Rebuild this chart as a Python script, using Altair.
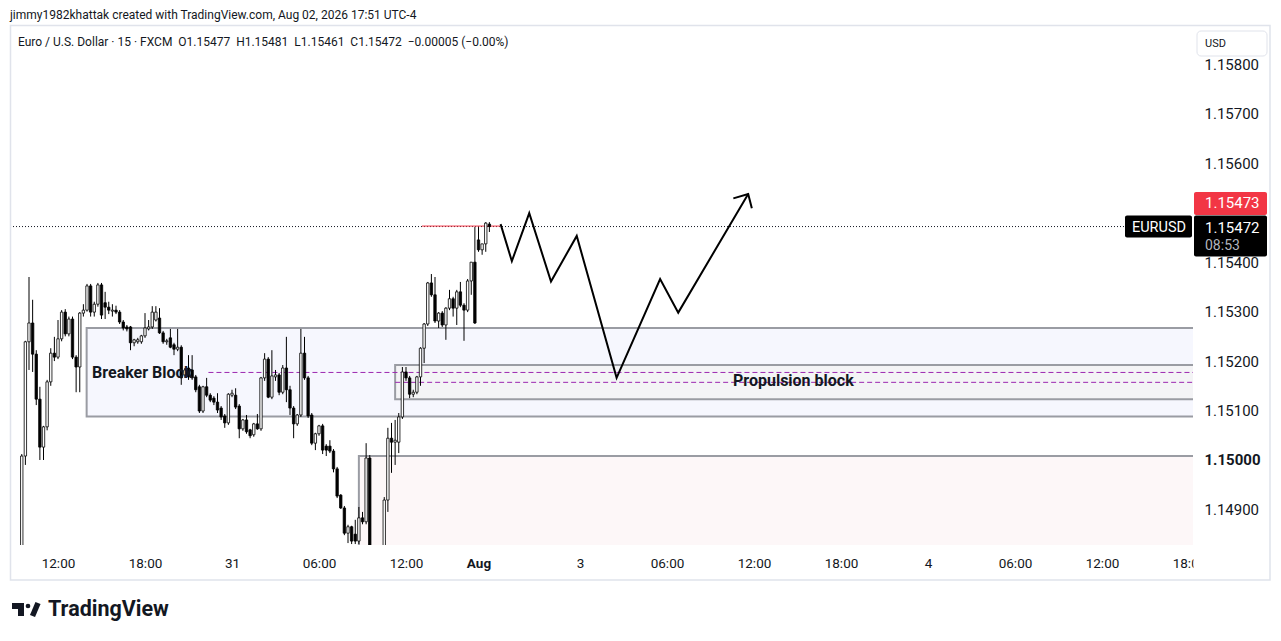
import altair as alt
import pandas as pd

# ---------------- data ----------------
FIRST_BAR = -10  # bar index of first candle (index 0 = Jul 30 12:00, 15-min bars)

opens = [1.14790, 1.15008, 1.15239, 1.15277, 1.15214, 1.15123, 1.15026, 1.15067, 1.15158, 1.15216,
         1.15208, 1.15245, 1.15299, 1.15255, 1.15285, 1.15208, 1.15188, 1.15297, 1.15303, 1.15352,
         1.15299, 1.15315, 1.15354, 1.15318, 1.15309, 1.15301, 1.15303, 1.15299, 1.15279, 1.15269,
         1.15269, 1.15237, 1.15239, 1.15239, 1.15251, 1.15265, 1.15269, 1.15283, 1.15287, 1.15257,
         1.15239, 1.15247, 1.15233, 1.15224, 1.15228, 1.15172, 1.15186, 1.15182, 1.15168, 1.15148,
         1.15099, 1.15148, 1.15131, 1.15125, 1.15117, 1.15105, 1.15089, 1.15075, 1.15131, 1.15131,
         1.15109, 1.15063, 1.15081, 1.15061, 1.15051, 1.15073, 1.15063, 1.15166, 1.15204, 1.15127,
         1.15168, 1.15172, 1.15137, 1.15186, 1.15142, 1.15105, 1.15073, 1.15091, 1.15216, 1.15166,
         1.15091, 1.15034, 1.15053, 1.15069, 1.15028, 1.15028, 1.15018, 1.14982, 1.14929, 1.14903,
         1.14852, 1.14865, 1.14850, 1.14836, 1.14883, 1.14875, 1.15004, 1.14800, 1.14770, 1.14790,
         1.14805, 1.14919, 1.15044, 1.15036, 1.15036, 1.15087, 1.15178, 1.15166, 1.15133, 1.15137,
         1.15168, 1.15226, 1.15275, 1.15358, 1.15334, 1.15281, 1.15297, 1.15273, 1.15307, 1.15326,
         1.15307, 1.15340, 1.15313, 1.15303, 1.15362, 1.15400, 1.15445, 1.15425, 1.15437, 1.15477]
highs = [1.15012, 1.15241, 1.15370, 1.15324, 1.15222, 1.15148, 1.15069, 1.15162, 1.15226, 1.15249,
         1.15283, 1.15303, 1.15305, 1.15290, 1.15290, 1.15212, 1.15299, 1.15315, 1.15356, 1.15356,
         1.15320, 1.15358, 1.15358, 1.15340, 1.15320, 1.15315, 1.15312, 1.15303, 1.15283, 1.15273,
         1.15271, 1.15245, 1.15247, 1.15253, 1.15297, 1.15283, 1.15311, 1.15311, 1.15307, 1.15261,
         1.15245, 1.15265, 1.15237, 1.15265, 1.15232, 1.15186, 1.15212, 1.15212, 1.15172, 1.15152,
         1.15150, 1.15166, 1.15135, 1.15129, 1.15135, 1.15109, 1.15093, 1.15135, 1.15142, 1.15145,
         1.15113, 1.15083, 1.15091, 1.15063, 1.15075, 1.15093, 1.15168, 1.15216, 1.15208, 1.15222,
         1.15182, 1.15176, 1.15192, 1.15249, 1.15150, 1.15109, 1.15093, 1.15265, 1.15249, 1.15170,
         1.15095, 1.15055, 1.15071, 1.15073, 1.15032, 1.15040, 1.15022, 1.14986, 1.14931, 1.14907,
         1.14869, 1.14867, 1.14879, 1.14905, 1.14895, 1.15034, 1.15010, 1.14815, 1.14800, 1.14815,
         1.14925, 1.15065, 1.15075, 1.15081, 1.15095, 1.15188, 1.15188, 1.15170, 1.15142, 1.15170,
         1.15228, 1.15277, 1.15360, 1.15376, 1.15370, 1.15299, 1.15301, 1.15309, 1.15344, 1.15330,
         1.15344, 1.15360, 1.15317, 1.15366, 1.15400, 1.15471, 1.15471, 1.15437, 1.15481, 1.15481]
lows = [1.14780, 1.14990, 1.15182, 1.15178, 1.15111, 1.15000, 1.15000, 1.15060, 1.15150, 1.15200,
        1.15204, 1.15240, 1.15250, 1.15250, 1.15204, 1.15137, 1.15137, 1.15290, 1.15300, 1.15290,
        1.15290, 1.15310, 1.15285, 1.15285, 1.15295, 1.15290, 1.15295, 1.15275, 1.15262, 1.15260,
        1.15222, 1.15230, 1.15235, 1.15235, 1.15247, 1.15262, 1.15265, 1.15280, 1.15255, 1.15235,
        1.15233, 1.15226, 1.15212, 1.15220, 1.15152, 1.15166, 1.15162, 1.15162, 1.15137, 1.15095,
        1.15095, 1.15127, 1.15117, 1.15111, 1.15095, 1.15081, 1.15065, 1.15071, 1.15127, 1.15103,
        1.15044, 1.15059, 1.15053, 1.15044, 1.15047, 1.15061, 1.15059, 1.15160, 1.15125, 1.15123,
        1.15160, 1.15131, 1.15133, 1.15117, 1.15091, 1.15044, 1.15069, 1.15087, 1.15162, 1.15085,
        1.15030, 1.15020, 1.15049, 1.15012, 1.15008, 1.15014, 1.14975, 1.14923, 1.14901, 1.14848,
        1.14832, 1.14830, 1.14830, 1.14830, 1.14870, 1.14870, 1.14760, 1.14750, 1.14740, 1.14770,
        1.14795, 1.14895, 1.14974, 1.14990, 1.15014, 1.15083, 1.15160, 1.15125, 1.15127, 1.15133,
        1.15150, 1.15196, 1.15271, 1.15330, 1.15277, 1.15267, 1.15269, 1.15243, 1.15303, 1.15290,
        1.15273, 1.15309, 1.15241, 1.15299, 1.15334, 1.15275, 1.15421, 1.15415, 1.15421, 1.15461]
closes = [1.15008, 1.15239, 1.15277, 1.15214, 1.15123, 1.15026, 1.15067, 1.15158, 1.15216, 1.15208,
          1.15245, 1.15299, 1.15255, 1.15285, 1.15208, 1.15188, 1.15297, 1.15303, 1.15352, 1.15299,
          1.15315, 1.15354, 1.15293, 1.15309, 1.15303, 1.15303, 1.15299, 1.15279, 1.15267, 1.15265,
          1.15237, 1.15243, 1.15243, 1.15251, 1.15267, 1.15269, 1.15299, 1.15299, 1.15257, 1.15239,
          1.15241, 1.15228, 1.15224, 1.15228, 1.15166, 1.15182, 1.15168, 1.15166, 1.15142, 1.15099,
          1.15148, 1.15131, 1.15121, 1.15117, 1.15101, 1.15087, 1.15075, 1.15133, 1.15135, 1.15107,
          1.15063, 1.15081, 1.15057, 1.15049, 1.15073, 1.15063, 1.15166, 1.15204, 1.15127, 1.15170,
          1.15172, 1.15137, 1.15186, 1.15142, 1.15105, 1.15073, 1.15091, 1.15216, 1.15166, 1.15089,
          1.15034, 1.15053, 1.15069, 1.15020, 1.15020, 1.15018, 1.14982, 1.14927, 1.14903, 1.14852,
          1.14865, 1.14836, 1.14836, 1.14883, 1.14875, 1.15004, 1.14800, 1.14770, 1.14790, 1.14805,
          1.14919, 1.15044, 1.15036, 1.15040, 1.15087, 1.15178, 1.15166, 1.15133, 1.15137, 1.15168,
          1.15226, 1.15275, 1.15358, 1.15334, 1.15281, 1.15297, 1.15273, 1.15307, 1.15326, 1.15307,
          1.15340, 1.15313, 1.15303, 1.15362, 1.15400, 1.15277, 1.15425, 1.15437, 1.15479, 1.15472]

# time axis ticks (bar index -> label)
time_ticks = [0, 24, 48, 72, 96, 116, 144, 168, 192, 216, 240, 264, 288, 312]
time_labels = ["12:00", "18:00", "31", "06:00", "12:00", "Aug", "3", "06:00", "12:00", "18:00",
               "4", "06:00", "12:00", "18:00"]
# 1.15500 is hidden behind the price tags in the reference, so it is not listed
price_ticks = [1.149, 1.150, 1.151, 1.152, 1.153, 1.154, 1.156, 1.157, 1.158]

# zones (bar index start, price bottom, price top)
zone_names = ["pink", "breaker", "propulsion"]
zone_start = [83.0, 7.9, 93.0]
zone_bottom = [1.14700, 1.15088, 1.15123]
zone_top = [1.15008, 1.15267, 1.15192]
zone_fill = ["#fdf7f8", "#f6f7fe", "#f4f4f6"]

# dashed magenta levels
dash_start = [41.5, 93.0]
dash_price = [1.15177, 1.15157]

# projected path (bar index, price)
path_bar = [122.1, 125.2, 130.0, 136.0, 143.1, 154.1, 166.1, 171.1, 190.4]
path_price = [1.15477, 1.15402, 1.15499, 1.15361, 1.15453, 1.15166, 1.15366, 1.15298, 1.15538]
head_bar = [186.3, 190.4, 191.4]
head_price = [1.15529, 1.15538, 1.15509]

last_price = 1.15472
ask_price = 1.15473

# ---------------- frame ----------------
X_MIN, X_MAX = -13.2414, 313.103
Y_MIN, Y_MAX = 1.148281, 1.158735
W, H = 1183, 517
FONT = "Roboto"
INK = "#131722"

xs = alt.Scale(domain=[X_MIN, X_MAX], nice=False, zero=False, padding=0)
ys = alt.Scale(domain=[Y_MIN, Y_MAX], nice=False, zero=False, padding=0)

candles = pd.DataFrame({
    "i": list(range(FIRST_BAR, FIRST_BAR + len(opens))),
    "o": opens, "h": highs, "l": lows, "c": closes,
})
candles["up"] = candles["c"] >= candles["o"]

label_expr = ("[" + ",".join("'%s'" % t for t in time_labels) + "][indexof(["
              + ",".join(str(v) for v in time_ticks) + "], datum.value)]")

x_axis = alt.Axis(orient="bottom", values=time_ticks, labelExpr=label_expr, title=None,
                  grid=False, domain=False, ticks=False, tickSize=0, labelPadding=11,
                  labelFont=FONT, labelFontSize=13.5, labelColor=INK, labelOverlap=False,
                  labelFlush=False, zindex=0,
                  labelFontWeight={"condition": {"test": "datum.value == 116", "value": "bold"},
                                   "value": "normal"})
y_axis = alt.Axis(orient="right", values=price_ticks, format=".5f", title=None, grid=False,
                  domain=False, ticks=False, tickSize=0, labelPadding=11, labelAlign="left",
                  labelBaseline="middle", labelFont=FONT, labelFontSize=15, labelColor=INK,
                  labelOverlap=False, zindex=0,
                  labelFontWeight={"condition": {"test": "abs(datum.value - 1.15) < 0.0000001",
                                                 "value": "bold"}, "value": "normal"})

def X(field):
    return alt.X(field, type="quantitative", scale=xs, axis=x_axis)

def Y(field):
    return alt.Y(field, type="quantitative", scale=ys, axis=y_axis)

# zones
zones = pd.DataFrame({"name": zone_names, "x0": zone_start, "y0": zone_bottom,
                      "y1": zone_top, "fill": zone_fill})
zones["x1"] = 330.0
zone_layer = alt.Chart(zones).mark_rect(clip=True, stroke="#9a9ca3", strokeWidth=2).encode(
    x=X("x0"), x2="x1", y=Y("y0"), y2="y1",
    fill=alt.Fill("fill:N", scale=None))

dashes = pd.DataFrame({"x0": dash_start, "p": dash_price})
dashes["x1"] = 330.0
dash_layer = alt.Chart(dashes).mark_rule(clip=True, color="#9c27b0", strokeWidth=1,
                                         strokeDash=[5, 3]).encode(
    x=X("x0"), x2="x1", y=Y("p"))

lines = pd.DataFrame({"x0": [X_MIN, 100.4], "x1": [294.3, 122.0],
                      "p": [last_price, ask_price], "kind": ["last", "ask"]})
last_layer = alt.Chart(lines[lines.kind == "last"]).mark_rule(
    clip=True, color=INK, strokeWidth=1, strokeDash=[1, 2]).encode(x=X("x0"), x2="x1", y=Y("p"))
ask_layer = alt.Chart(lines[lines.kind == "ask"]).mark_rule(
    clip=True, color="#f23645", strokeWidth=1).encode(x=X("x0"), x2="x1", y=Y("p"))

wicks = alt.Chart(candles).mark_rule(clip=True, color="#000000", strokeWidth=1).encode(
    x=X("i"), y=Y("l"), y2="h")
bodies = alt.Chart(candles).mark_bar(clip=True, size=2.4, stroke="#000000",
                                     strokeWidth=0.8).encode(
    x=X("i"), y=Y("o"), y2="c",
    fill=alt.condition("datum.up", alt.value("#ffffff"), alt.value("#000000")))

path = pd.DataFrame({"b": path_bar, "p": path_price, "k": list(range(len(path_bar)))})
path_layer = alt.Chart(path).mark_line(clip=True, color="#000000", strokeWidth=2,
                                       strokeJoin="miter").encode(
    x=X("b"), y=Y("p"), order="k:Q")
head = pd.DataFrame({"b": head_bar, "p": head_price, "k": [0, 1, 2]})
head_layer = alt.Chart(head).mark_line(clip=True, color="#000000", strokeWidth=2,
                                       strokeJoin="miter").encode(
    x=X("b"), y=Y("p"), order="k:Q")

zone_text = pd.DataFrame({"b": [9.4, 186.2], "p": [1.15176, 1.15160],
                          "t": ["Breaker Block", "Propulsion block"]})
zone_text_layer = alt.Chart(zone_text).mark_text(align="left", baseline="middle", font=FONT,
                                                 fontSize=16, fontWeight="bold",
                                                 color=INK).encode(
    x=X("b"), y=Y("p"), text="t:N")

# price tags on the right
tag = pd.DataFrame({"p": [ask_price]})
red_box = alt.Chart(tag).mark_rect(color="#f23645", cornerRadius=2, yOffset=-34,
                                   y2Offset=-11).encode(
    x=alt.value(1184), x2=alt.value(1257), y=Y("p"), y2="p")
red_txt = alt.Chart(pd.DataFrame({"p": [ask_price], "t": ["1.15473"]})).mark_text(
    align="left", baseline="middle", font=FONT, fontSize=15, color="#ffffff", dy=-23).encode(
    x=alt.value(1195), y=Y("p"), text="t:N")
blk = pd.DataFrame({"p": [last_price]})
black_box = alt.Chart(blk).mark_rect(color="#000000", cornerRadius=2, yOffset=-11,
                                     y2Offset=30).encode(
    x=alt.value(1184), x2=alt.value(1257), y=Y("p"), y2="p")
black_txt = alt.Chart(pd.DataFrame({"p": [last_price], "t": ["1.15472"]})).mark_text(
    align="left", baseline="middle", font=FONT, fontSize=15, color="#ffffff", dy=1).encode(
    x=alt.value(1195), y=Y("p"), text="t:N")
timer_txt = alt.Chart(pd.DataFrame({"p": [last_price], "t": ["08:53"]})).mark_text(
    align="left", baseline="middle", font=FONT, fontSize=14, color="#b2b5be", dy=19).encode(
    x=alt.value(1195), y=Y("p"), text="t:N")
sym_box = alt.Chart(blk).mark_rect(color="#000000", cornerRadius=2, yOffset=-11,
                                   y2Offset=11).encode(
    x=alt.value(1115), x2=alt.value(1182), y=Y("p"), y2="p")
sym_txt = alt.Chart(pd.DataFrame({"p": [last_price], "t": ["EURUSD"]})).mark_text(
    align="center", baseline="middle", font=FONT, fontSize=14.5, fontWeight="normal",
    color="#ffffff", dy=1).encode(x=alt.value(1149), y=Y("p"), text="t:N")

# chrome: frame, axis cover, USD box, header, logo
one = pd.DataFrame({"k": [0]})
frame = alt.Chart(one).mark_rect(filled=False, stroke="#e0e3eb", strokeWidth=1.5).encode(
    x=alt.value(0.5), x2=alt.value(1260), y=alt.value(-2.5), y2=alt.value(552))
cover = alt.Chart(one).mark_rect(color="#ffffff").encode(
    x=alt.value(1183.5), x2=alt.value(1259), y=alt.value(519), y2=alt.value(551))
usd_box = alt.Chart(one).mark_rect(fill="#ffffff", stroke="#e0e3eb", strokeWidth=1,
                                   cornerRadius=4).encode(
    x=alt.value(1187), x2=alt.value(1257), y=alt.value(3), y2=alt.value(28))
usd_txt = alt.Chart(pd.DataFrame({"t": ["USD"]})).mark_text(
    align="left", baseline="middle", font=FONT, fontSize=11, color=INK).encode(
    x=alt.value(1195), y=alt.value(15.5), text="t:N")

header = alt.Chart(pd.DataFrame({"t": [
    "jimmy1982khattak created with TradingView.com, Aug 02, 2026 17:51 UTC-4"]})).mark_text(
    align="left", baseline="middle", font=FONT, fontSize=12, color=INK).encode(
    x=alt.value(0), y=alt.value(-13.5), text="t:N")
legend_str = ("Euro / U.S. Dollar \u00b7 15 \u00b7 FXCM\u00a0\u00a0O1.15477\u00a0\u00a0H1.15481"
              "\u00a0\u00a0L1.15461\u00a0\u00a0C1.15472\u00a0\u00a0\u22120.00005 (\u22120.00%)")
legend = alt.Chart(pd.DataFrame({"t": [legend_str]})).mark_text(
    align="left", baseline="middle", font=FONT, fontSize=12, color=INK).encode(
    x=alt.value(8), y=alt.value(14), text="t:N")

logo_bar = alt.Chart(one).mark_rect(color=INK).encode(
    x=alt.value(2), x2=alt.value(14), y=alt.value(575), y2=alt.value(581))
logo_stem = alt.Chart(one).mark_rect(color=INK).encode(
    x=alt.value(8), x2=alt.value(14), y=alt.value(575), y2=alt.value(588))
logo_dot = alt.Chart(one).mark_point(filled=True, color=INK, size=22, opacity=1).encode(
    x=alt.value(18), y=alt.value(578))
logo_slash = alt.Chart(one).mark_rule(color=INK, strokeWidth=5.5, strokeCap="butt").encode(
    x=alt.value(28), y=alt.value(575), x2=alt.value(22.5), y2=alt.value(588))
logo_txt = alt.Chart(pd.DataFrame({"t": ["TradingView"]})).mark_text(
    align="left", baseline="middle", font=FONT, fontSize=21.5, fontWeight="bold",
    color=INK).encode(x=alt.value(38), y=alt.value(582), text="t:N")

chart = alt.layer(
    zone_layer, dash_layer, last_layer, ask_layer, wicks, bodies, path_layer, head_layer,
    zone_text_layer, sym_box, sym_txt, cover, frame, red_box, red_txt, black_box, black_txt,
    timer_txt, usd_box, usd_txt, header, legend, logo_bar, logo_stem, logo_dot, logo_slash,
    logo_txt,
).properties(
    width=W, height=H,
    autosize=alt.AutoSizeParams(type="none"),
    padding={"left": 2, "top": 20, "right": 78, "bottom": 90},
    background="#ffffff",
).configure_view(stroke=None)

chart.save("out.html", embed_options={"renderer": "svg", "actions": False})
